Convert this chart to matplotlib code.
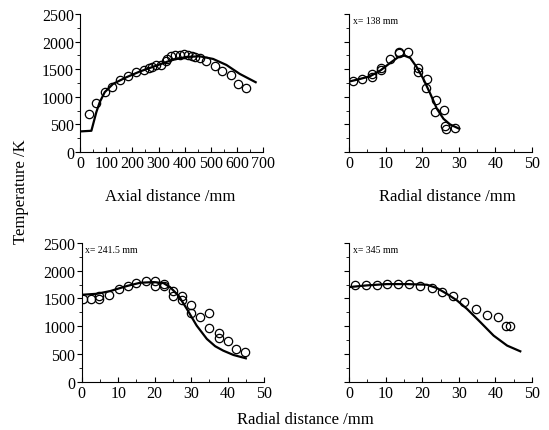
import matplotlib
matplotlib.use('Agg')
from matplotlib import pyplot as plt
from matplotlib.ticker import MultipleLocator

plt.rcParams['font.family'] = 'Liberation Serif'
plt.rcParams['font.size'] = 11

# axial profile
ax_exp_x = [34, 62, 94, 121, 152, 184, 214, 245, 263, 277, 292, 310, 327, 334, 349, 365, 381, 397, 413, 427, 440, 458, 483, 515, 543, 576, 606, 634]
ax_exp_y = [681, 886, 1096, 1187, 1307, 1386, 1446, 1494, 1524, 1548, 1572, 1584, 1657, 1681, 1735, 1759, 1765, 1771, 1765, 1747, 1717, 1705, 1657, 1566, 1464, 1392, 1229, 1169]
ax_sim_x = [0, 43, 62, 75, 94, 126, 177, 228, 292, 356, 407, 458, 509, 560, 611, 672]
ax_sim_y = [373, 385, 723, 904, 1084, 1235, 1355, 1458, 1566, 1675, 1723, 1735, 1687, 1578, 1416, 1265]

# x = 138 mm
r138_exp_x = [1.0, 3.6, 6.3, 6.3, 8.7, 8.7, 11.2, 13.6, 13.6, 16.1, 18.7, 18.7, 21.4, 21.1, 23.7, 23.6, 26.0, 26.1, 26.4, 28.9]
r138_exp_y = [1295, 1319, 1416, 1367, 1530, 1488, 1687, 1819, 1795, 1807, 1530, 1446, 1319, 1169, 946, 717, 753, 470, 416, 428]
r138_sim_x = [0, 3, 5.7, 8.5, 11.2, 13.5, 15.1, 16.7, 18.5, 20.3, 22.2, 24.0, 25.8, 27.6, 30.1]
r138_sim_y = [1277, 1325, 1373, 1476, 1614, 1723, 1747, 1705, 1536, 1325, 1054, 783, 602, 500, 422]

# x = 241.5 mm
r241_exp_x = [0.3, 2.5, 4.8, 4.8, 7.5, 10.1, 12.6, 15.0, 17.5, 20.0, 20.0, 22.6, 22.6, 25.1, 25.1, 27.5, 27.5, 29.9, 29.9, 32.5, 35.0, 35.0, 37.5, 37.5, 40.1, 42.4, 44.8]
r241_exp_y = [1494, 1494, 1494, 1536, 1560, 1663, 1723, 1783, 1807, 1813, 1723, 1765, 1723, 1633, 1548, 1548, 1464, 1380, 1241, 1175, 1235, 964, 873, 783, 735, 584, 536]
r241_sim_x = [0, 4.1, 7.8, 12.3, 16.0, 19.7, 22.4, 24.2, 26.5, 28.8, 31.5, 34.3, 36.6, 38.8, 41.6, 45.0]
r241_sim_y = [1566, 1584, 1633, 1723, 1783, 1795, 1777, 1705, 1554, 1313, 1012, 771, 639, 560, 482, 422]

# x = 345 mm
r345_exp_x = [1.6, 4.6, 7.5, 10.4, 13.4, 16.4, 19.5, 22.6, 25.5, 28.3, 31.5, 34.8, 37.8, 40.7, 42.8, 43.9]
r345_exp_y = [1747, 1741, 1747, 1759, 1765, 1759, 1723, 1687, 1608, 1536, 1434, 1313, 1205, 1157, 1000, 1000]
r345_sim_x = [0, 4.8, 10.3, 15.8, 21.3, 24.0, 26.7, 29.5, 32.2, 35.9, 39.5, 43.2, 46.8]
r345_sim_y = [1705, 1735, 1759, 1759, 1747, 1687, 1584, 1464, 1313, 1072, 831, 651, 548]

fig = plt.figure(figsize=(5.49, 4.31), dpi=100)
a1 = fig.add_axes([0.146, 0.645, 0.333, 0.320])
a2 = fig.add_axes([0.636, 0.645, 0.333, 0.320])
a3 = fig.add_axes([0.149, 0.112, 0.332, 0.322])
a4 = fig.add_axes([0.636, 0.112, 0.333, 0.322])

panels = [
    (a1, ax_exp_x, ax_exp_y, ax_sim_x, ax_sim_y, 700, 100, None, True),
    (a2, r138_exp_x, r138_exp_y, r138_sim_x, r138_sim_y, 50, 10, 'x= 138 mm', False),
    (a3, r241_exp_x, r241_exp_y, r241_sim_x, r241_sim_y, 50, 10, 'x= 241.5 mm', True),
    (a4, r345_exp_x, r345_exp_y, r345_sim_x, r345_sim_y, 50, 10, 'x= 345 mm', False),
]
for ax, ex, ey, sx, sy, xmax, xstep, lab, ylabels in panels:
    ax.plot(sx, sy, color='black', lw=1.6)
    ax.plot(ex, ey, 'o', mfc='none', mec='black', ms=6, mew=0.9)
    ax.set_xlim(0, xmax)
    ax.set_ylim(0, 2500)
    ax.xaxis.set_major_locator(MultipleLocator(xstep))
    ax.xaxis.set_minor_locator(MultipleLocator(xstep / 2))
    ax.yaxis.set_major_locator(MultipleLocator(500))
    ax.yaxis.set_minor_locator(MultipleLocator(250))
    ax.spines['top'].set_visible(False)
    ax.spines['right'].set_visible(False)
    ax.tick_params(axis='x', which='both', direction='in', pad=2)
    ax.tick_params(axis='y', which='both', direction='out', pad=1)
    ax.tick_params(which='major', length=3.5)
    ax.tick_params(which='minor', length=2)
    ax.tick_params(labelsize=11.5)
    if not ylabels:
        ax.set_yticklabels([])
    if lab:
        ax.text(0.02, 0.985, lab, transform=ax.transAxes, fontsize=7, va='top', ha='left')

fig.text(0.310, 0.543, 'Axial distance /mm', ha='center', va='center', fontsize=12)
fig.text(0.814, 0.543, 'Radial distance /mm', ha='center', va='center', fontsize=12)
fig.text(0.557, 0.026, 'Radial distance /mm', ha='center', va='center', fontsize=12)
fig.text(0.038, 0.555, 'Temperature /K', rotation=90, ha='center', va='center', fontsize=12)

fig.savefig('out.png', dpi=100)
